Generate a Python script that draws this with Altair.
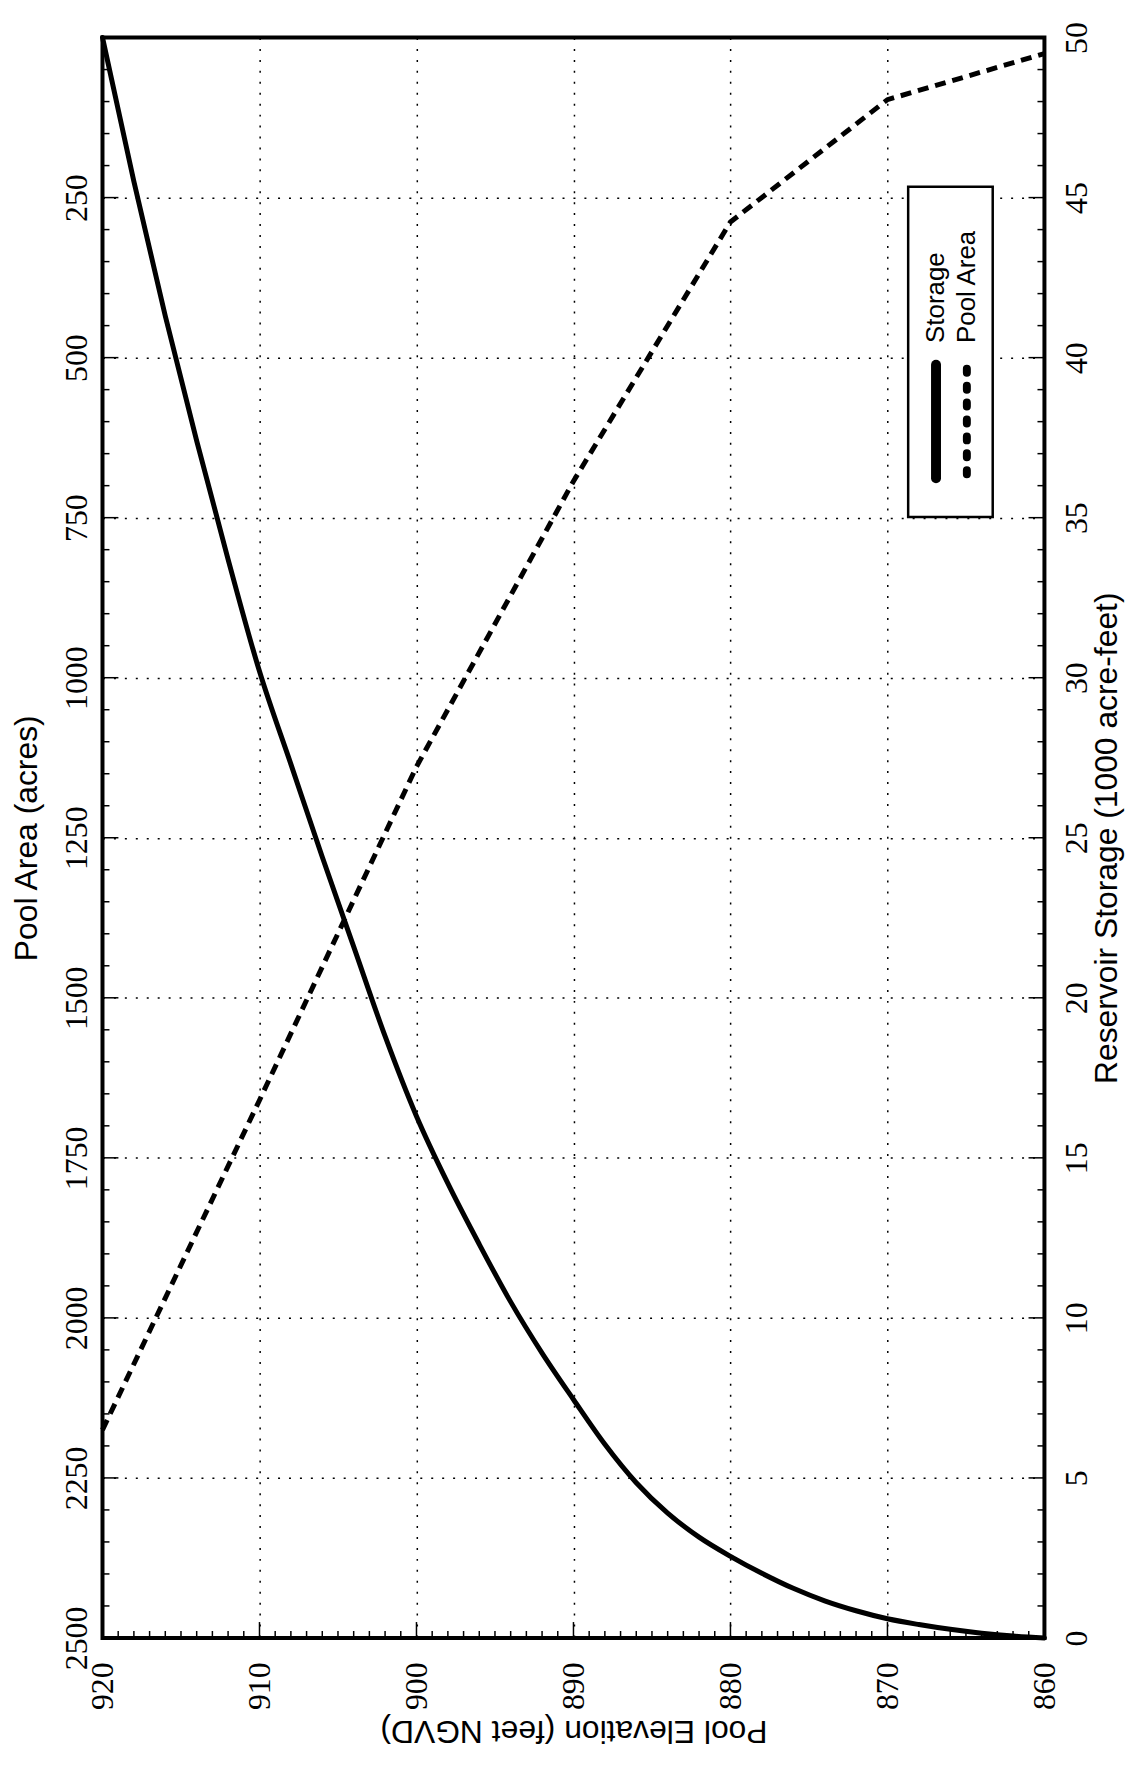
import altair as alt
import pandas as pd

# ---- data ----
# Storage curve: pool elevation (ft NGVD) -> reservoir storage (1000 acre-feet)
storage_elev = [860, 862, 864, 866, 868, 870, 872, 874, 876, 878, 880, 882, 884, 886, 888,
                890, 892, 894, 896, 898, 900, 902, 904, 906, 908, 910, 912, 914, 916, 918, 920]
storage_vals = [0, 0.06, 0.15, 0.27, 0.42, 0.6, 0.85, 1.16, 1.55, 2.02, 2.55, 3.15, 3.9, 4.85, 6.05,
                7.45, 8.9, 10.5, 12.3, 14.2, 16.3, 18.8, 21.6, 24.4, 27.3, 30.2, 33.7, 37.4, 41.3, 45.5, 50.0]

# Pool area curve: pool elevation (ft NGVD) -> pool area (acres)
area_elev = [860, 870, 880, 890, 900, 910, 920]
area_vals = [25, 97, 288, 693, 1139, 1660, 2175]

# axis tick values
elev_labels = [860, 870, 880, 890, 900, 910, 920]
storage_labels = [0, 5, 10, 15, 20, 25, 30, 35, 40, 45, 50]
area_labels = [250, 500, 750, 1000, 1250, 1500, 1750, 2000, 2250, 2500]
elev_major = [870, 880, 890, 900, 910]
elev_minor = [e for e in range(861, 920) if e % 10 != 0]
storage_major = [5, 10, 15, 20, 25, 30, 35, 40, 45]
storage_minor = [s for s in range(1, 50) if s % 5 != 0]
area_major = [250, 500, 750, 1000, 1250, 1500, 1750, 2000, 2250]
area_minor = [a for a in range(50, 2500, 50) if a % 250 != 0]
legend_labels = ["Storage", "Pool Area"]

# ---- layout ----
W, H = 947, 1609
SANS = "Liberation Sans"
NARROW = "Liberation Sans Narrow"
MAJ, MIN = 16, 7

x_scale = alt.Scale(domain=[860, 920], reverse=True, nice=False, zero=False)
s_scale = alt.Scale(domain=[0, 50], nice=False, zero=False)
a_scale = alt.Scale(domain=[0, 2500], reverse=True, nice=False, zero=False)

grid_style = dict(grid=True, gridColor="black", gridDash=[2, 9], gridWidth=1.5, gridOpacity=1)
common = dict(labelFont=NARROW, labelFontSize=32, labelColor="black", labelFlush=False,
              labelOverlap=False, labelBound=False, ticks=False, domain=False,
              titleFont=SANS, titleFontSize=32, titleFontWeight="normal", titleColor="black",
              titleAlign="center", titleBaseline="middle", format="d")

x_axis = alt.Axis(title="Pool Elevation (feet NGVD)", orient="bottom", values=elev_labels,
                  labelAngle=270, labelAlign="right", labelBaseline="middle", labelPadding=24,
                  titleAngle=180, titleX=W / 2, titleY=93,
                  **grid_style, **common)
s_axis = alt.Axis(title="Reservoir Storage (1000 acre-feet)", orient="right", values=storage_labels,
                  labelAngle=270, labelAlign="center", labelBaseline="top", labelPadding=17,
                  titleAngle=270, titleX=62, titleY=H / 2,
                  **grid_style, **common)
a_axis = alt.Axis(title="Pool Area (acres)", orient="left", values=area_labels,
                  labelAngle=270, labelAlign="center", labelBaseline="alphabetic", labelPadding=16,
                  titleAngle=270, titleX=-76, titleY=H / 2,
                  grid=False, **common)

storage_df = pd.DataFrame({"elev": storage_elev, "storage": storage_vals})
area_df = pd.DataFrame({"elev": area_elev, "area": area_vals})

storage_line = alt.Chart(storage_df).mark_line(
    color="black", strokeWidth=5, interpolate="monotone", strokeCap="round"
).encode(
    x=alt.X("elev:Q", scale=x_scale, axis=x_axis),
    y=alt.Y("storage:Q", scale=s_scale, axis=s_axis),
)

area_line = alt.Chart(area_df).mark_line(
    color="black", strokeWidth=5, strokeDash=[11, 7]
).encode(
    x=alt.X("elev:Q", scale=x_scale, axis=x_axis),
    y=alt.Y("area:Q", scale=a_scale, axis=a_axis),
)


def yticks(values, scale, x0, x1):
    return alt.Chart(pd.DataFrame({"v": values})).mark_rule(color="black", strokeWidth=1.5).encode(
        y=alt.Y("v:Q", scale=scale, axis=None), x=alt.value(x0), x2=alt.value(x1))


def xticks(values, length):
    return alt.Chart(pd.DataFrame({"v": values})).mark_rule(color="black", strokeWidth=1.5).encode(
        x=alt.X("v:Q", scale=x_scale, axis=x_axis), y=alt.value(H - length), y2=alt.value(H))


ticks = [
    yticks(storage_major, s_scale, W - MAJ, W),
    yticks(storage_minor, s_scale, W - MIN, W),
    yticks(area_major, a_scale, 0, MAJ),
    yticks(area_minor, a_scale, 0, MIN),
    xticks(elev_major, MAJ),
    xticks(elev_minor, MIN),
]

leg_df = pd.DataFrame({"series": legend_labels})
legend_box = alt.Chart(leg_df).transform_filter(alt.datum.series == "Storage").mark_rect(
    fill="white", stroke="black", strokeWidth=2.5
).encode(x=alt.value(810), x2=alt.value(895), y=alt.value(150), y2=alt.value(482))

leg_solid = alt.Chart(leg_df).transform_filter(alt.datum.series == "Storage").mark_rule(
    color="black", strokeWidth=10, strokeCap="round"
).encode(x=alt.value(838), y=alt.value(329), y2=alt.value(443))

leg_dash = alt.Chart(leg_df).transform_filter(alt.datum.series == "Pool Area").mark_rule(
    color="black", strokeWidth=8, strokeCap="round", strokeDash=[4, 13]
).encode(x=alt.value(869), y=alt.value(333), y2=alt.value(445))

leg_text1 = alt.Chart(leg_df).transform_filter(alt.datum.series == "Storage").mark_text(
    angle=270, align="left", baseline="middle", font=SANS, fontSize=26, color="black"
).encode(x=alt.value(838), y=alt.value(307), text="series:N")

leg_text2 = alt.Chart(leg_df).transform_filter(alt.datum.series == "Pool Area").mark_text(
    angle=270, align="left", baseline="middle", font=SANS, fontSize=26, color="black"
).encode(x=alt.value(869), y=alt.value(307), text="series:N")

chart = alt.layer(
    storage_line, area_line, *ticks, legend_box, leg_solid, leg_dash, leg_text1, leg_text2
).resolve_scale(y="independent").properties(
    width=W, height=H,
    autosize=alt.AutoSizeParams(type="none"),
    padding={"left": 95, "top": 25, "right": 82, "bottom": 120},
).configure_view(stroke="black", strokeWidth=4)

chart.save("out.html", embed_options={"renderer": "svg", "actions": False})
